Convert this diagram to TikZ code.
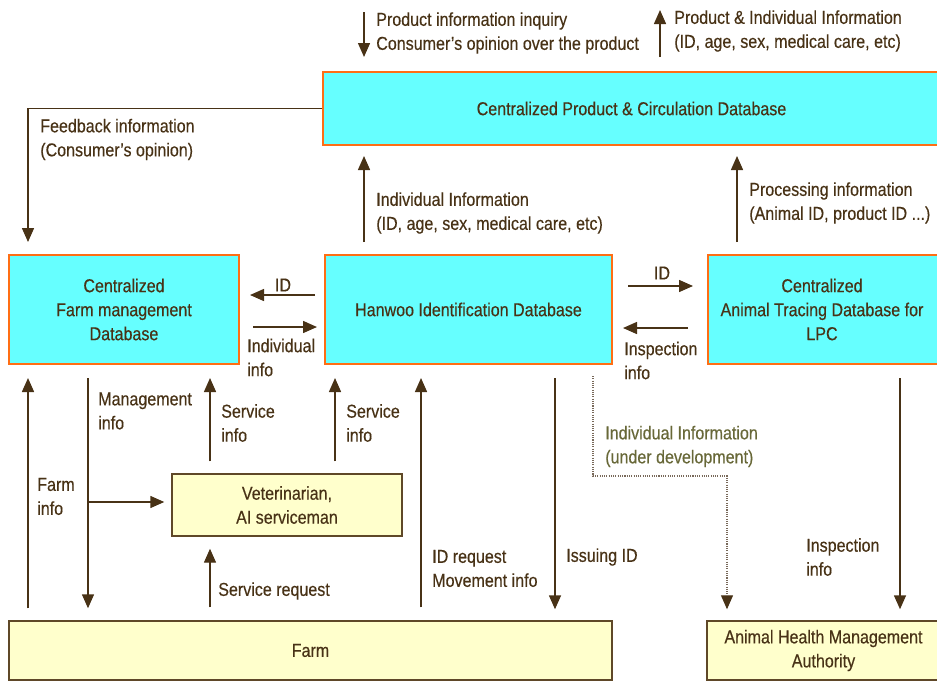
\documentclass[tikz,border=0pt]{standalone}
\usepackage{fontspec}
\setmainfont{Liberation Sans}[FakeStretch=0.86,FakeBold=0.35]
\usetikzlibrary{arrows.meta}

\definecolor{brn}{RGB}{72,50,22}
\definecolor{org}{RGB}{255,110,20}
\definecolor{cyn}{RGB}{102,255,255}
\definecolor{ylw}{RGB}{255,255,204}
\definecolor{ybrd}{RGB}{95,72,40}
\definecolor{olv}{RGB}{104,104,56}
\definecolor{dotc}{RGB}{120,105,90}

\begin{document}
\begin{tikzpicture}[x=0.75pt,y=-0.75pt,
  font=\fontsize{14}{18}\selectfont,
  db/.style={draw=org,line width=1.5pt,fill=cyn,text=brn,align=center,inner sep=0pt},
  actor/.style={draw=ybrd,line width=1.1pt,fill=ylw,text=brn,align=center,inner sep=0pt},
  flow/.style={draw=brn,line width=1.1pt,-{Triangle[length=10.5pt,width=9pt]}},
  dotflow/.style={draw=dotc,line width=0.8pt,dash pattern=on 0.8pt off 0.9pt,
    -{Triangle[length=10.5pt,width=9pt,color=brn]}},
  lbl/.style={text=brn,align=left,anchor=west,inner sep=0pt}]
  \useasboundingbox (0,0) rectangle (937,682);

  % databases
  \node[db,minimum width=462.75pt,minimum height=54.75pt] (cpcd) at (631.5,108.5)
    {Centralized Product \& Circulation Database};
  \node[db,minimum width=172.5pt,minimum height=81.75pt] (cfmd) at (124,309.5)
    {Centralized\\Farm management\\Database};
  \node[db,minimum width=215.25pt,minimum height=81.75pt] (hid) at (468.5,309.5)
    {Hanwoo Identification Database};
  \node[db,minimum width=174pt,minimum height=81.75pt] (catd) at (824,309.5)
    {\hspace*{-3pt}Centralized\\\hspace*{-3pt}Animal Tracing Database for\\\hspace*{-3pt}LPC};

  % people and places
  \node[actor,minimum width=172.5pt,minimum height=46.5pt] (vet) at (287,505)
    {Veterinarian,\\AI serviceman};
  \node[actor,minimum width=452.25pt,minimum height=44.25pt] (farm) at (310.5,650.5) {Farm};
  \node[actor,minimum width=174.75pt,minimum height=44.25pt] (ahma) at (823.5,650.5)
    {Animal Health Management\\Authority};

  % columns and rows the arrows run along
  \coordinate (xa) at (28,0);
  \coordinate (xb) at (88,0);
  \coordinate (xc) at (210,0);
  \coordinate (xd) at (335,0);
  \coordinate (xe) at (364,0);
  \coordinate (xf) at (421,0);
  \coordinate (xg) at (555,0);
  \coordinate (xh) at (593,0);
  \coordinate (xi) at (660,0);
  \coordinate (xj) at (727,0);
  \coordinate (xk) at (737,0);
  \coordinate (xl) at (900,0);
  \coordinate (qtop) at (364,12);
  \coordinate (ptop) at (660,10);
  \coordinate (br) at (88,502);
  \coordinate (dv) at (0,476);

  % top: consumer side
  \draw[flow,shorten >=10.5pt] (qtop) -- (xe |- cpcd.north);
  \draw[flow,shorten <=10.5pt] (xi |- cpcd.north) -- (ptop);
  \node[lbl] (t1) at (376,33) {Product information inquiry\\Consumer's opinion over the product};
  \node[lbl] (t2) at (674,31) {Product \& Individual Information\\(ID, age, sex, medical care, etc)};

  \draw[flow,shorten >=9pt] (cpcd.west) -| (xa |- cfmd.north);
  \node[lbl] (t3) at (40,139.5) {Feedback information\\(Consumer's opinion)};

  \draw[flow,shorten <=9pt,shorten >=7.5pt] (xe |- hid.north) -- (xe |- cpcd.south);
  \node[lbl] (t4) at (376,213) {Individual Information\\(ID, age, sex, medical care, etc)};
  \draw[flow,shorten <=9pt,shorten >=7.5pt] (xk |- catd.north) -- (xk |- cpcd.south);
  \node[lbl] (t5) at (749,203) {Processing information\\(Animal ID, product ID ...)};

  % between the databases
  \draw[flow,shorten <=6.75pt,shorten >=7.5pt] (hid.west |- 0,295) -- (cfmd.east |- 0,295);
  \node[text=brn,inner sep=0pt] (t6) at (283,285) {ID};
  \draw[flow,shorten <=9.75pt,shorten >=5.25pt] (cfmd.east |- 0,327) -- (hid.west |- 0,327);
  \node[lbl] (t7) at (247,357.5) {Individual\\info};
  \draw[flow,shorten <=11.25pt,shorten >=10.5pt] (hid.east |- 0,286) -- (catd.west |- 0,286);
  \node[text=brn,inner sep=0pt] (t8) at (662,273) {ID};
  \draw[flow,shorten <=14.25pt,shorten >=7.5pt] (catd.west |- 0,328) -- (hid.east |- 0,328);
  \node[lbl] (t9) at (624,360.5) {Inspection\\info};

  % farm side
  \draw[flow,shorten <=9pt,shorten >=9.75pt] (xa |- farm.north) -- (xa |- cfmd.south);
  \node[lbl] (t10) at (37,496.5) {Farm\\info};
  \draw[flow,shorten <=9.75pt,shorten >=9pt] (xb |- cfmd.south) -- (xb |- farm.north);
  \node[lbl] (t11) at (98,411) {Management\\info};
  \draw[flow,shorten >=5.25pt] (br) -- (vet.west |- br);
  \draw[flow,shorten <=9pt,shorten >=9.75pt] (xc |- vet.north) -- (xc |- cfmd.south);
  \node[lbl] (t12) at (221,423) {Service\\info};
  \draw[flow,shorten <=9pt,shorten >=9.75pt] (xd |- vet.north) -- (xd |- hid.south);
  \node[lbl] (t13) at (346,423) {Service\\info};
  \draw[flow,shorten <=9.75pt,shorten >=9pt] (xc |- farm.north) -- (xc |- vet.south);
  \node[lbl] (t14) at (218,591) {Service request};
  \draw[flow,shorten <=9.75pt,shorten >=9.75pt] (xf |- farm.north) -- (xf |- hid.south);
  \node[lbl] (t15) at (432,568.5) {ID request\\Movement info};
  \draw[flow,shorten <=9.75pt,shorten >=8.25pt] (xg |- hid.south) -- (xg |- farm.north);
  \node[lbl] (t16) at (566,557) {Issuing ID};

  % health authority
  \draw[dotflow,shorten <=8.25pt,shorten >=8.25pt]
    (xh |- hid.south) -- (xh |- dv) -- (xj |- dv) -- (xj |- ahma.north);
  \node[lbl,text=olv] (t17) at (605,446.5) {Individual Information\\(under development)};
  \draw[flow,shorten <=9.75pt,shorten >=8.25pt] (xl |- catd.south) -- (xl |- ahma.north);
  \node[lbl] (t18) at (806,557) {Inspection\\info};
\end{tikzpicture}
\end{document}
